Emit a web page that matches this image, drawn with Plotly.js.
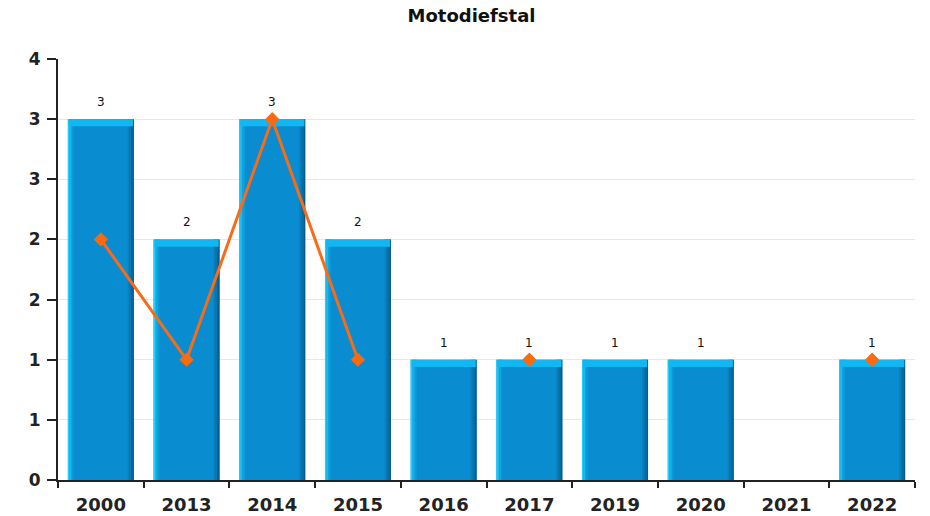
<!DOCTYPE html>
<html><head><meta charset="utf-8">
<script src="https://cdn.plot.ly/plotly-3.0.1.min.js"></script>
<style>body{margin:0;background:#fff}#c{width:930px;height:516px}</style>
</head><body><div id="c"></div>
<script>
const categories = ['2000','2013','2014','2015','2016','2017','2019','2020','2021','2022'];
const barValues = [3,2,3,2,1,1,1,1,0,1];
const lineValues = [2,1,3,1,null,1,null,null,null,1];
const yTickVals = [0,0.5,1,1.5,2,2.5,3,3.5];
const yTickText = ['0','1','1','2','2','3','3','4'];

const W = 0.77, half = W/2;
const traces = [];
traces.push({type:'bar', x:categories, y:barValues, width:W, offset:-half,
  marker:{color:'#0a8cd0', line:{width:0}}, hoverinfo:'x+y'});
const leftCols = ['#22d0ff','#18baf0','#10a6e2','#0c98d8'];
leftCols.forEach((c,i)=>traces.push({type:'bar', x:categories, y:barValues, width:0.018,
  offset:-half+i*0.018, marker:{color:c,line:{width:0}}, hoverinfo:'skip', showlegend:false}));
const rightCols = ['#0a80c0','#0975ae','#08699c','#075c8a'];
rightCols.forEach((c,i)=>traces.push({type:'bar', x:categories, y:barValues, width:0.018,
  offset:half-(4-i)*0.018, marker:{color:c,line:{width:0}}, hoverinfo:'skip', showlegend:false}));
const capH = 0.06;
traces.push({type:'bar', x:categories, y:barValues.map(v=>v?capH:0), base:barValues.map(v=>v-capH),
  width:W-0.02, offset:-half+0.01, marker:{color:'#12b6f2',line:{width:0}}, hoverinfo:'skip', showlegend:false});
traces.push({type:'scatter', mode:'lines+markers', x:categories, y:lineValues,
  line:{color:'#f86c18', width:3}, marker:{symbol:'diamond', size:11, color:'#fa6a10'},
  connectgaps:false, showlegend:false});

// value labels above bars (x given as category index)
const annotations = [];
barValues.forEach((v,i)=>{ if(v) annotations.push({
  x:i, y:v, xref:'x', yref:'y', text:String(v), showarrow:false,
  yshift:17, font:{family:'DejaVu Sans', size:12, color:'#111'}}); });

const layout = {
  width:930, height:516,
  margin:{l:58, r:15, t:59, b:36},
  paper_bgcolor:'#fff', plot_bgcolor:'#fff',
  barmode:'overlay', showlegend:false, annotations:annotations,
  title:{text:'<b>Motodiefstal</b>', x:0.507, xanchor:'center', y:0.969, yanchor:'middle',
    font:{family:'DejaVu Sans', size:18, color:'#111'}},
  xaxis:{type:'category', range:[-0.5,9.5], showline:true, linecolor:'#222', linewidth:2,
    ticks:'outside', tickson:'boundaries', ticklen:6, tickcolor:'#222', tickwidth:2,
    ticklabelstandoff:7,
    showgrid:false, tickfont:{family:'DejaVu Sans', size:18, color:'#222', weight:'bold'}},
  yaxis:{range:[0,3.5], tickmode:'array', tickvals:yTickVals, ticktext:yTickText,
    showline:true, linecolor:'#222', linewidth:2, ticks:'outside', ticklen:9, tickcolor:'#222', tickwidth:2,
    ticklabelstandoff:3,
    showgrid:true, gridcolor:'#e8e8e8', gridwidth:1, zeroline:false,
    tickfont:{family:'DejaVu Sans', size:17, color:'#222', weight:'bold'}}
};
Plotly.newPlot('c', traces, layout, {displayModeBar:false, staticPlot:true});
</script></body></html>
